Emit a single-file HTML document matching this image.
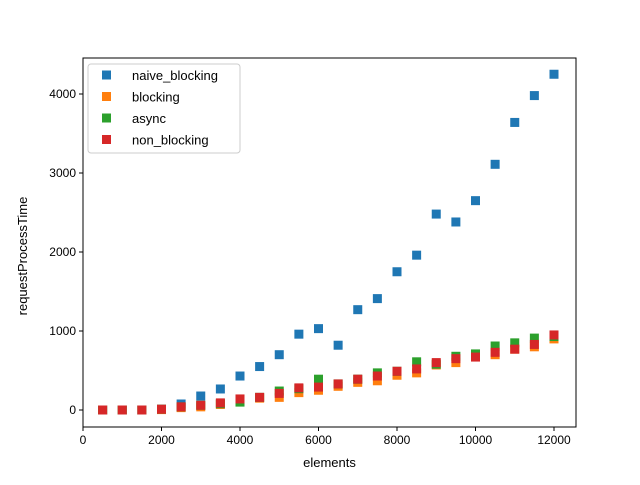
<!DOCTYPE html>
<html><head><meta charset="utf-8"><style>
body{margin:0;background:#fff;font-family:"Liberation Sans","DejaVu Sans",sans-serif}
</style></head><body>
<svg id="chart" width="640" height="480" xmlns="http://www.w3.org/2000/svg"></svg>
<script>
const xs=[500,1000,1500,2000,2500,3000,3500,4000,4500,5000,5500,6000,6500,7000,7500,8000,8500,9000,9500,10000,10500,11000,11500,12000];
const naive=[0,0,0,10,76,177,266,430,550,700,960,1030,820,1270,1410,1750,1960,2480,2380,2650,3110,3640,3980,4250];
const blocking=[0,0,0,5,30,40,70,110,150,160,220,250,300,350,370,440,470,570,600,680,700,770,800,900];
const asyncV=[0,0,0,10,40,60,80,100,160,240,270,390,330,390,470,490,610,580,680,710,810,850,910,930];
const nonBlocking=[0,0,0,10,40,60,90,140,160,210,280,290,330,390,430,490,520,600,650,670,730,770,830,950];
const xTicks=[0,2000,4000,6000,8000,10000,12000];
const yTicks=[0,1000,2000,3000,4000];
const series=[["naive_blocking",naive,"#1f77b4"],["blocking",blocking,"#ff7f0e"],["async",asyncV,"#2ca02c"],["non_blocking",nonBlocking,"#d62728"]];
const L=83,R=576,T=58,B=427;
const X=v=>83+v*(78.5/2000);
const Y=v=>410-v*(79/1000);
const svg=document.getElementById('chart');
const NS="http://www.w3.org/2000/svg";
function mk(t,a,txt){const e=document.createElementNS(NS,t);for(const k in a)e.setAttribute(k,a[k]);if(txt!=null)e.textContent=txt;svg.appendChild(e);return e;}
series.forEach(([name,vals,col])=>{
 vals.forEach((v,i)=>{
  const r=mk('rect',{x:X(xs[i])-4.5,y:Y(v)-4.5,width:9,height:9,fill:col});
  
  
 });
});
const frame=mk('rect',{x:L,y:T,width:R-L,height:B-T,fill:'none',stroke:'#000','stroke-width':1});


xTicks.forEach(t=>{
 mk('line',{x1:X(t),x2:X(t),y1:B,y2:B+4,stroke:'#000'});
 const tx=mk('text',{x:X(t),y:B+17,'font-size':12,'text-anchor':'middle'},t);
 
 
});
yTicks.forEach(t=>{
 mk('line',{x1:L-4,x2:L,y1:Y(t),y2:Y(t),stroke:'#000'});
 const tx=mk('text',{x:L-7,y:Y(t)+4,'font-size':12,'text-anchor':'end'},t);
 
 
});
const xt=mk('text',{x:(L+R)/2,y:467,'font-size':13,'text-anchor':'middle'},'elements');


const yt=mk('text',{x:0,y:0,'font-size':13,'text-anchor':'middle',transform:'translate(27,256) rotate(-90)'},'requestProcessTime');


const lg=mk('rect',{x:88,y:64,width:152,height:89,fill:'#fff',stroke:'#ccc',rx:3});


series.forEach(([name,vals,col],i)=>{
 const cy=75+i*21.5;
 mk('rect',{x:102,y:cy-4.5,width:9,height:9,fill:col});
 const t=mk('text',{x:132,y:cy+5,'font-size':13},name);
 
 
});
</script>
</body></html>
